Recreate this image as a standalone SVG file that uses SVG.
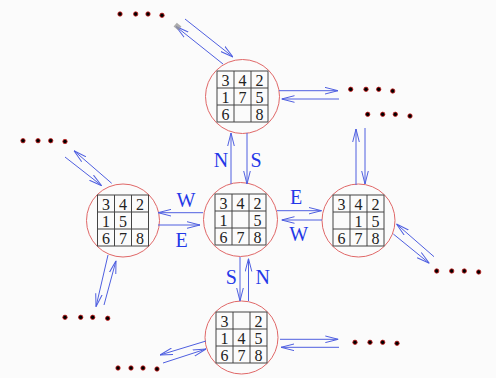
<svg xmlns="http://www.w3.org/2000/svg" width="496" height="378" viewBox="0 0 496 378">
<defs>
<style>
.bg{fill:#fbfbfb}
.ring{fill:none;stroke:#e06868;stroke-width:1}
.cell{fill:none;stroke:#444;stroke-width:1}
.d{font-family:"Liberation Serif","Times New Roman",serif;font-size:16px;fill:#222;text-anchor:middle}
.lab{font-family:"Liberation Serif","Times New Roman",serif;font-size:20px;fill:#2438e8;text-anchor:middle}
.ar{stroke:#4f5fe0;stroke-width:1;fill:none;marker-end:url(#ah)}
.dot{fill:#000;stroke:#d02020;stroke-width:0.8}
</style>
<marker id="ah" viewBox="0 0 13 8" refX="13" refY="4" markerWidth="13" markerHeight="8" orient="auto" markerUnits="userSpaceOnUse">
<path d="M0,0.7 L13,4 L0,7.3" fill="none" stroke="#4f5fe0" stroke-width="1"/>
</marker>
<g id="grid">
<rect class="cell" x="0" y="0" width="51" height="51"/>
<line class="cell" x1="17" y1="0" x2="17" y2="51"/>
<line class="cell" x1="34" y1="0" x2="34" y2="51"/>
<line class="cell" x1="0" y1="17" x2="51" y2="17"/>
<line class="cell" x1="0" y1="34" x2="51" y2="34"/>
</g>
</defs>
<rect class="bg" x="0" y="0" width="496" height="378"/>

<g id="node-top">
<circle class="ring" cx="242.5" cy="96.5" r="37"/>
<g transform="translate(217,71)">
<use href="#grid"/>
<text class="d" x="8.5" y="14.5">3</text><text class="d" x="25.5" y="14.5">4</text><text class="d" x="42.5" y="14.5">2</text>
<text class="d" x="8.5" y="31.5">1</text><text class="d" x="25.5" y="31.5">7</text><text class="d" x="42.5" y="31.5">5</text>
<text class="d" x="8.5" y="48.5">6</text><text class="d" x="42.5" y="48.5">8</text>
</g>
</g>

<g id="node-center">
<circle class="ring" cx="240.5" cy="219.5" r="37"/>
<g transform="translate(215,194)">
<use href="#grid"/>
<text class="d" x="8.5" y="14.5">3</text><text class="d" x="25.5" y="14.5">4</text><text class="d" x="42.5" y="14.5">2</text>
<text class="d" x="8.5" y="31.5">1</text><text class="d" x="42.5" y="31.5">5</text>
<text class="d" x="8.5" y="48.5">6</text><text class="d" x="25.5" y="48.5">7</text><text class="d" x="42.5" y="48.5">8</text>
</g>
</g>

<g id="node-left">
<circle class="ring" cx="123" cy="220.5" r="36.5"/>
<g transform="translate(97.5,195)">
<use href="#grid"/>
<text class="d" x="8.5" y="14.5">3</text><text class="d" x="25.5" y="14.5">4</text><text class="d" x="42.5" y="14.5">2</text>
<text class="d" x="8.5" y="31.5">1</text><text class="d" x="25.5" y="31.5">5</text>
<text class="d" x="8.5" y="48.5">6</text><text class="d" x="25.5" y="48.5">7</text><text class="d" x="42.5" y="48.5">8</text>
</g>
</g>

<g id="node-right">
<circle class="ring" cx="358.5" cy="220.5" r="36.5"/>
<g transform="translate(333,195)">
<use href="#grid"/>
<text class="d" x="8.5" y="14.5">3</text><text class="d" x="25.5" y="14.5">4</text><text class="d" x="42.5" y="14.5">2</text>
<text class="d" x="25.5" y="31.5">1</text><text class="d" x="42.5" y="31.5">5</text>
<text class="d" x="8.5" y="48.5">6</text><text class="d" x="25.5" y="48.5">7</text><text class="d" x="42.5" y="48.5">8</text>
</g>
</g>

<g id="node-bottom">
<circle class="ring" cx="241.5" cy="337.5" r="36.5"/>
<g transform="translate(216,312)">
<use href="#grid"/>
<text class="d" x="8.5" y="14.5">3</text><text class="d" x="42.5" y="14.5">2</text>
<text class="d" x="8.5" y="31.5">1</text><text class="d" x="25.5" y="31.5">4</text><text class="d" x="42.5" y="31.5">5</text>
<text class="d" x="8.5" y="48.5">6</text><text class="d" x="25.5" y="48.5">7</text><text class="d" x="42.5" y="48.5">8</text>
</g>
</g>

<g id="connectors">
<line class="ar" x1="231" y1="184" x2="231" y2="133"/>
<line class="ar" x1="247" y1="133" x2="247" y2="184"/>
<line class="ar" x1="203" y1="212.7" x2="158" y2="212.7"/>
<line class="ar" x1="158" y1="225" x2="200" y2="225"/>
<line class="ar" x1="277" y1="210.7" x2="321.5" y2="210.7"/>
<line class="ar" x1="322" y1="220" x2="281.5" y2="220"/>
<line class="ar" x1="240" y1="257" x2="240" y2="301"/>
<line class="ar" x1="248.5" y1="301" x2="248.5" y2="258.5"/>

<line class="ar" x1="223" y1="64" x2="176" y2="26.5"/>
<line class="ar" x1="185" y1="19" x2="233" y2="57"/>
<line class="ar" x1="279" y1="90.7" x2="338" y2="90.7"/>
<line class="ar" x1="339" y1="99" x2="281.5" y2="99"/>

<line class="ar" x1="356" y1="185" x2="356" y2="129"/>
<line class="ar" x1="365" y1="128" x2="365" y2="184"/>
<line class="ar" x1="434" y1="256.7" x2="396.5" y2="224"/>
<line class="ar" x1="393.3" y1="234" x2="429.3" y2="263.3"/>

<line class="ar" x1="111.7" y1="183.3" x2="74" y2="150.7"/>
<line class="ar" x1="65" y1="157" x2="101.7" y2="185.7"/>
<line class="ar" x1="108" y1="255" x2="96" y2="306.7"/>
<line class="ar" x1="104" y1="305" x2="116" y2="260.7"/>

<line class="ar" x1="280" y1="339.3" x2="338.3" y2="339.3"/>
<line class="ar" x1="339" y1="347.3" x2="281" y2="347.3"/>
<line class="ar" x1="206" y1="341" x2="160" y2="355"/>
<line class="ar" x1="163" y1="363" x2="206" y2="349"/>

<rect x="174.5" y="24" width="6" height="5" fill="#999" opacity="0.8" transform="rotate(40 177.5 26.5)"/>
</g>

<g id="labels">
<text class="lab" x="221" y="166.5">N</text>
<text class="lab" x="256" y="166.5">S</text>
<text class="lab" x="186" y="207">W</text>
<text class="lab" x="181.7" y="246.5">E</text>
<text class="lab" x="296" y="204">E</text>
<text class="lab" x="298.7" y="240.5">W</text>
<text class="lab" x="231.3" y="284">S</text>
<text class="lab" x="262.7" y="284">N</text>
</g>

<g id="dots">
<circle class="dot" cx="120" cy="14" r="2.2"/><circle class="dot" cx="135.7" cy="14" r="2.2"/><circle class="dot" cx="148" cy="14" r="2.2"/><circle class="dot" cx="162" cy="15.3" r="2.2"/>
<circle class="dot" cx="350.7" cy="89.3" r="2.2"/><circle class="dot" cx="366" cy="89.3" r="2.2"/><circle class="dot" cx="378.7" cy="89.3" r="2.2"/><circle class="dot" cx="392.7" cy="91" r="2.2"/>
<circle class="dot" cx="367.7" cy="114.3" r="2.2"/><circle class="dot" cx="382.7" cy="114.3" r="2.2"/><circle class="dot" cx="395.3" cy="114.3" r="2.2"/><circle class="dot" cx="410" cy="116" r="2.2"/>
<circle class="dot" cx="23" cy="140.7" r="2.2"/><circle class="dot" cx="38" cy="140.7" r="2.2"/><circle class="dot" cx="50.7" cy="140.7" r="2.2"/><circle class="dot" cx="65" cy="141.5" r="2.2"/>
<circle class="dot" cx="65" cy="317.3" r="2.2"/><circle class="dot" cx="80.7" cy="317.3" r="2.2"/><circle class="dot" cx="92.7" cy="317.3" r="2.2"/><circle class="dot" cx="107.7" cy="318.3" r="2.2"/>
<circle class="dot" cx="436.7" cy="271" r="2.2"/><circle class="dot" cx="451.7" cy="271" r="2.2"/><circle class="dot" cx="464.3" cy="271" r="2.2"/><circle class="dot" cx="478.7" cy="272" r="2.2"/>
<circle class="dot" cx="355" cy="342.3" r="2.2"/><circle class="dot" cx="370" cy="342.3" r="2.2"/><circle class="dot" cx="382.7" cy="342.3" r="2.2"/><circle class="dot" cx="397" cy="343.3" r="2.2"/>
<circle class="dot" cx="118" cy="368" r="2.2"/><circle class="dot" cx="131" cy="368" r="2.2"/><circle class="dot" cx="143" cy="368" r="2.2"/><circle class="dot" cx="157" cy="369" r="2.2"/>
</g>
</svg>
